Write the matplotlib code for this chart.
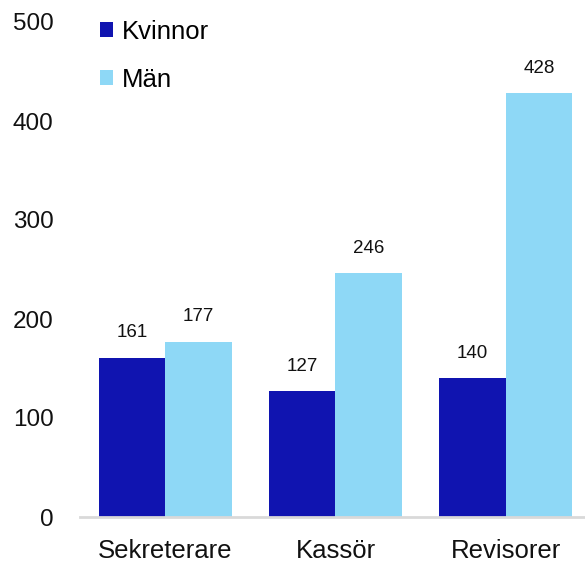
import matplotlib
matplotlib.use("Agg")
import matplotlib.pyplot as plt
import numpy as np

plt.rcParams['font.family'] = ['Liberation Sans', 'DejaVu Sans']

categories = ["Sekreterare", "Kassör", "Revisorer"]
kvinnor = [161, 127, 140]
man = [177, 246, 428]
series_names = ["Kvinnor", "Män"]
yticks = [0, 100, 200, 300, 400, 500]

col_k = "#1014B0"
col_m = "#8ED8F6"

W, H = 585, 563
fig = plt.figure(figsize=(W / 100, H / 100), dpi=100)
ax = fig.add_axes([80 / W, 46 / H, 1 - 80 / W, 495 / H])

x = np.arange(len(categories))
bw = 0.39
b1 = ax.bar(x - bw / 2, kvinnor, bw, color=col_k, label=series_names[0])
b2 = ax.bar(x + bw / 2, man, bw, color=col_m, label=series_names[1])

for bars, vals in ((b1, kvinnor), (b2, man)):
    for r, v in zip(bars, vals):
        ax.annotate(str(v), (r.get_x() + r.get_width() / 2, v),
                    xytext=(0, 12), textcoords="offset points",
                    ha="center", va="bottom", fontsize=13.5, color="#111111")

ax.set_xlim(-0.5, 2.465)
ax.set_ylim(0, 500)
ax.set_xticks(x)
ax.set_xticklabels(categories)
ax.set_yticks(yticks)
ax.tick_params(axis="both", length=0, labelsize=17.5, colors="#111111")
ax.tick_params(axis="x", labelsize=18.5, pad=16)
ax.tick_params(axis="y", pad=19)
for s in ("top", "right", "left"):
    ax.spines[s].set_visible(False)
ax.spines["bottom"].set_color("#D9D9D9")
ax.spines["bottom"].set_linewidth(2)

fig.legend(handles=[b1, b2], labels=series_names, loc="upper left",
           bbox_to_anchor=(100 / W, 1 - 20 / H), frameon=False,
           fontsize=18.5, handlelength=0.52, handleheight=0.52,
           handletextpad=0.35, labelspacing=0.92, borderpad=0, borderaxespad=0)

fig.savefig("out.png", dpi=100)
